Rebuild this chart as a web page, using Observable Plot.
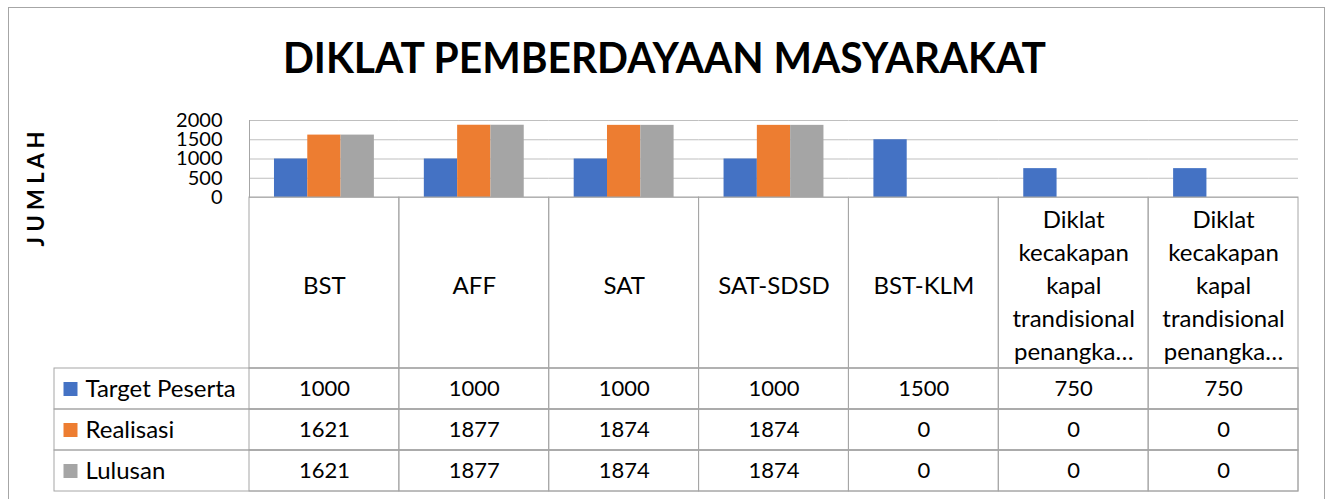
<!DOCTYPE html>
<html>
<head>
<meta charset="utf-8">
<script src="https://cdn.jsdelivr.net/npm/d3@7"></script>
<script src="https://cdn.jsdelivr.net/npm/@observablehq/plot@0.6"></script>
<style>
  html, body { margin: 0; padding: 0; background: #fff; }
  #root { position: relative; width: 1328px; height: 499px; overflow: hidden; background: #fff; font-family: Lato, "Open Sans", sans-serif; }
  #border { position: absolute; left: 8px; top: 7px; width: 1317px; height: 560px; border: 1px solid #a6a6a6; box-sizing: border-box; }
  #title { position: absolute; left: 0; width: 1328px; top: 0; text-align: center; }
  #title span { display: inline-block; font-weight: 700; font-size: 42px; line-height: 1.2; white-space: nowrap; color: #000; transform-origin: center; }
  #ytitle { position: absolute; left: 36px; top: 189px; font-weight: 700; font-size: 22px; white-space: pre; color: #000; transform: translate(-50%, -50%) rotate(-90deg); line-height: 1; }
  .layer { position: absolute; left: 0; }
  svg { overflow: visible; }
</style>
</head>
<body>
<div id="root">
  <div id="border"></div>
  <div id="title"><span id="titleText"></span></div>
  <div id="ytitle"></div>
  <div id="bars" class="layer" style="top:0"></div>
  <div id="header" class="layer" style="top:197px"></div>
  <div id="values" class="layer" style="top:368px"></div>
</div>
<script>
// ---- data ----
const titleText = "DIKLAT PEMBERDAYAAN MASYARAKAT";
const yTitle = "J U M L A H";
const categories = ["BST", "AFF", "SAT", "SAT-SDSD", "BST-KLM",
  "Diklat kecakapan kapal trandisional penangka…",
  "Diklat kecakapan kapal trandisional penangka…"];
const tickLabels = ["BST", "AFF", "SAT", "SAT-SDSD", "BST-KLM",
  "Diklat\nkecakapan\nkapal\ntrandisional\npenangka…",
  "Diklat\nkecakapan\nkapal\ntrandisional\npenangka…"];
const series = ["Target Peserta", "Realisasi", "Lulusan"];
const targetPeserta = [1000, 1000, 1000, 1000, 1500, 750, 750];
const realisasi = [1621, 1877, 1874, 1874, 0, 0, 0];
const lulusan = [1621, 1877, 1874, 1874, 0, 0, 0];
const yTicks = [0, 500, 1000, 1500, 2000];
const colors = ["#4472C4", "#ED7D31", "#A5A5A5"];

// ---- derived tables ----
const seriesValues = [targetPeserta, realisasi, lulusan];
const idx = d3.range(categories.length);
const rows = [];
series.forEach((s, j) => idx.forEach(i => rows.push({ci: i, category: categories[i], series: s, value: seriesValues[j][i]})));

const gridColor = "#bfbfbf";
const tableColor = "#a6a6a6";
const font = "Lato, 'Open Sans', sans-serif";

// ---- title ----
const tEl = document.getElementById("titleText");
tEl.textContent = titleText;
tEl.parentNode.style.top = (73 - 0.987 * 42) + "px";
const w = tEl.getBoundingClientRect().width;
tEl.style.transform = `scaleX(${763 / w})`;
document.getElementById("ytitle").textContent = yTitle;

// ---- bars ----
const bars = Plot.plot({
  width: 1328, height: 200,
  marginTop: 120, marginBottom: 3, marginLeft: 249, marginRight: 30,
  style: {fontFamily: font, fontSize: "20px", color: "#000", background: "transparent", overflow: "visible"},
  fx: {domain: idx, padding: 0, round: false, axis: null},
  x: {domain: series, paddingInner: 0, paddingOuter: 0.75, round: false, axis: null},
  y: {domain: [0, 2000], axis: null},
  color: {domain: series, range: colors},
  marks: [
    Plot.gridY(yTicks, {stroke: gridColor, strokeOpacity: 1}),
    Plot.frame({anchor: "left", stroke: tableColor, facetAnchor: "left"}),
    Plot.barY(rows, {fx: "ci", x: "series", y: "value", fill: "series"}),
    Plot.axisY(yTicks, {tickSize: 0, tickPadding: 27, fontSize: 20, tickFormat: d => String(d), label: null, facetAnchor: "left", fill: "#000"})
  ]
});
document.getElementById("bars").appendChild(bars);

const fxRange = bars.scale("fx").range;

// ---- header row (category labels) ----
const header = Plot.plot({
  width: 1328, height: 171,
  marginTop: 0, marginBottom: 0, marginLeft: 249, marginRight: 30,
  style: {fontFamily: font, fontSize: "24px", color: "#000", background: "transparent", overflow: "visible"},
  x: {domain: idx, range: fxRange, padding: 0, round: false, axis: null},
  marks: [
    Plot.cell(idx, {x: d => d, stroke: tableColor, fill: "none"}),
    Plot.text(idx, {x: d => d, text: i => tickLabels[i], frameAnchor: "middle", fontSize: 24, lineHeight: 1.375, fill: "#000"})
  ]
});
document.getElementById("header").appendChild(header);

// ---- data table ----
const table = Plot.plot({
  width: 1328, height: 124,
  marginTop: 0, marginBottom: 1, marginLeft: 54, marginRight: 30,
  style: {fontFamily: font, fontSize: "22px", color: "#000", background: "transparent", overflow: "visible"},
  x: {domain: idx, range: fxRange, padding: 0, round: false, axis: null},
  y: {domain: series, padding: 0, round: false, axis: null},
  color: {domain: series, range: colors},
  marks: [
    Plot.cell(series, {y: d => d, stroke: tableColor, fill: "none"}),
    Plot.cell(rows, {x: "ci", y: "series", stroke: tableColor, fill: "none"}),
    Plot.text(rows, {x: "ci", y: "series", text: d => String(d.value), fontSize: 22, fill: "#000"}),
    Plot.dot(series, {y: d => d, frameAnchor: "left", dx: 16, symbol: "square", r: 7.9, fill: d => d, stroke: null}),
    Plot.text(series, {y: d => d, frameAnchor: "left", dx: 31, textAnchor: "start", text: d => d, fontSize: 24, fill: "#000"})
  ]
});
document.getElementById("values").appendChild(table);
</script>
</body>
</html>
